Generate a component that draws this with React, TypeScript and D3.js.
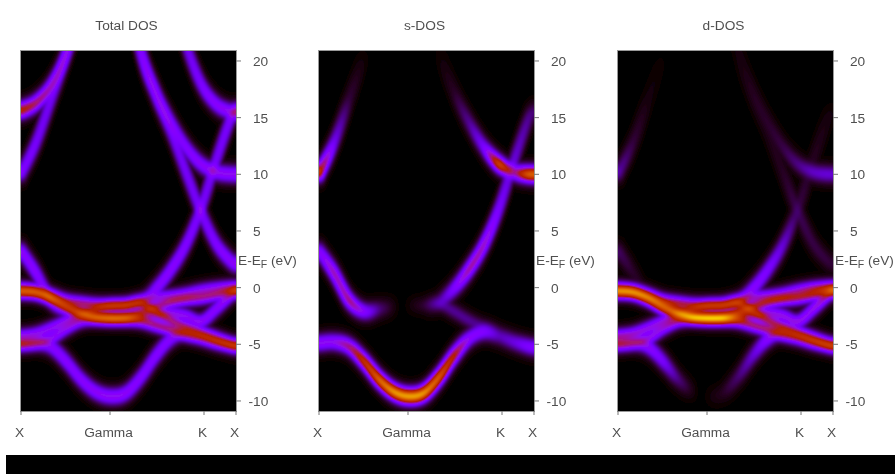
import * as d3 from "d3";
import React, { useMemo } from "react";

// path position of the k-nodes (X - Gamma - K - X)
const kNodes = [0, 15, 30, 45, 60, 75, 90, 105, 120, 135, 150, 165, 180, 195, 210, 215];
const kTicks = [0, 89, 183, 215];
const kTickLabels = ["X", "Gamma", "K", "X"];
const energyTicks = [20, 15, 10, 5, 0, -5, -10];
const panelTitles = ["Total DOS", "s-DOS", "d-DOS"];

// band energies (eV) read at each k-node
const energyA = [-4.9, -4.8, -5.2, -6.5, -8.1, -9.2, -9.6, -9.3, -7.9, -6.0, -4.5, -3.9, -4.3, -4.8, -5.2, -5.3];
const energyB = [3.3, 1.3, -1.1, -2.1, -1.9, -1.7, -1.7, -1.7, -1.3, -0.1, 1.6, 3.8, 7.0, 11.2, 15.0, 15.7];
const energyC = [60, 55, 50, 45, 40, 38, 35, 27, 20.6, 16.9, 13.8, 10.2, 6.7, 3.9, 2.3, 2.0];
const energyH = [60, 55, 50, 45, 40, 38, 35, 27.5, 21, 17.3, 14.6, 12.4, 10.9, 10.2, 10, 10];
const energyE = [10, 12.8, 16.6, 20.5, 25, 32, 40, 60, 60, 60, 60, 60, 60, 60, 60, 60];
const energyF = [15.6, 16.3, 17.8, 20.6, 25, 32, 40, 60, 60, 60, 60, 60, 60, 60, 60, 60];
const energyG = [60, 60, 60, 60, 60, 60, 60, 60, 45, 33, 26.5, 21.5, 18, 16.2, 15.5, 15.5];
const energyD1 = [-0.4, -0.5, -1.0, -1.8, -2.3, -2.6, -2.7, -2.6, -2.2, -1.7, -1.25, -1.0, -0.85, -0.6, -0.3, -0.2];
const energyD2 = [-0.15, -0.3, -0.7, -1.2, -1.4, -1.55, -1.6, -1.55, -1.2, -0.9, -0.8, -0.6, -0.3, -0.1, 0, 0];
const energyD3 = [-0.3, -0.4, -0.9, -1.6, -2.2, -2.6, -2.7, -2.7, -2.6, -2.4, -2.3, -2.5, -3.0, -1.9, -0.6, -0.3];
const energyD4 = [-4.3, -4.1, -3.6, -3.0, -2.4, -1.9, -1.6, -1.55, -1.4, -2.1, -2.9, -3.5, -4.0, -4.5, -5.0, -5.1];
const energyD5 = [-5.0, -4.9, -4.5, -3.6, -2.9, -2.7, -2.7, -2.75, -2.9, -3.3, -3.7, -4.1, -4.4, -4.8, -5.1, -5.2];

// brightness of each band in the three panels
const totalA = [0.3, 0.28, 0.28, 0.3, 0.3, 0.3, 0.3, 0.3, 0.3, 0.3, 0.28, 0.24, 0.12, 0.1, 0.1, 0.1];
const totalB = [0.32, 0.33, 0.28, 0.1, 0.08, 0.05, 0.05, 0.05, 0.12, 0.3, 0.32, 0.32, 0.32, 0.32, 0.32, 0.3];
const totalC = [0, 0, 0, 0, 0, 0, 0, 0.3, 0.3, 0.3, 0.3, 0.3, 0.3, 0.3, 0.3, 0.3];
const totalH = [0, 0, 0, 0, 0, 0, 0, 0.3, 0.3, 0.3, 0.3, 0.3, 0.3, 0.3, 0.3, 0.3];
const totalE = [0.3, 0.3, 0.3, 0.28, 0.24, 0, 0, 0, 0, 0, 0, 0, 0, 0, 0, 0];
const totalF = [0.52, 0.45, 0.42, 0.36, 0.28, 0, 0, 0, 0, 0, 0, 0, 0, 0, 0, 0];
const totalG = [0, 0, 0, 0, 0, 0, 0, 0, 0, 0.3, 0.3, 0.3, 0.3, 0.3, 0.3, 0.32];
const totalD1 = [0.42, 0.42, 0.43, 0.43, 0.43, 0.43, 0.43, 0.43, 0.42, 0.39, 0.39, 0.39, 0.39, 0.39, 0.41, 0.43];
const totalD2 = [0.41, 0.41, 0.41, 0.41, 0.41, 0.41, 0.41, 0.41, 0.37, 0.3, 0.3, 0.3, 0.3, 0.3, 0.33, 0.33];
const totalD3 = [0.41, 0.41, 0.41, 0.41, 0.43, 0.43, 0.43, 0.41, 0.32, 0.3, 0.3, 0.3, 0.3, 0.3, 0.36, 0.38];
const totalD4 = [0.3, 0.3, 0.3, 0.31, 0.33, 0.38, 0.41, 0.41, 0.41, 0.41, 0.41, 0.41, 0.41, 0.41, 0.41, 0.41];
const totalD5 = [0.38, 0.34, 0.3, 0.31, 0.33, 0.38, 0.43, 0.43, 0.41, 0.41, 0.41, 0.41, 0.41, 0.41, 0.41, 0.41];

const sA = [0.3, 0.3, 0.42, 0.62, 0.78, 0.85, 0.85, 0.85, 0.78, 0.58, 0.3, 0.25, 0.12, 0.17, 0.25, 0.25];
const sB = [0.28, 0.45, 0.47, 0.28, 0.08, 0, 0, 0, 0.1, 0.27, 0.45, 0.45, 0.33, 0.24, 0.13, 0.05];
const sE = [0.68, 0.27, 0.05, 0, 0, 0, 0, 0, 0, 0, 0, 0, 0, 0, 0, 0];
const sH = [0, 0, 0, 0, 0, 0, 0, 0, 0, 0.03, 0.12, 0.26, 0.68, 0.35, 0.72, 0.7];
const sD4 = [0, 0, 0, 0, 0, 0, 0, 0.03, 0.1, 0.1, 0.1, 0.08, 0.05, 0.03, 0.03, 0];

const dA = [0.25, 0.25, 0.3, 0.25, 0.09, 0, 0, 0.02, 0.08, 0.18, 0.3, 0.25, 0.05, 0.03, 0.03, 0.03];
const dB = [0.07, 0.03, 0.03, 0.05, 0.1, 0.05, 0, 0.05, 0.25, 0.3, 0.28, 0.2, 0.06, 0.03, 0.01, 0];
const dC = [0, 0, 0, 0, 0, 0, 0, 0, 0, 0.02, 0.02, 0.03, 0.07, 0.05, 0.04, 0.03];
const dH = [0, 0, 0, 0, 0, 0, 0, 0, 0.01, 0.02, 0.03, 0.05, 0.09, 0.14, 0.16, 0.15];
const dE = [0.14, 0.05, 0.01, 0, 0, 0, 0, 0, 0, 0, 0, 0, 0, 0, 0, 0];
const dD1 = [0.5, 0.5, 0.5, 0.51, 0.52, 0.54, 0.54, 0.54, 0.51, 0.47, 0.45, 0.45, 0.45, 0.45, 0.47, 0.49];
const dD2 = [0.48, 0.48, 0.48, 0.48, 0.45, 0.42, 0.42, 0.42, 0.4, 0.34, 0.32, 0.32, 0.34, 0.4, 0.44, 0.45];
const dD3 = [0.48, 0.48, 0.48, 0.5, 0.52, 0.54, 0.54, 0.54, 0.42, 0.34, 0.32, 0.32, 0.32, 0.34, 0.42, 0.45];
const dD4 = [0.36, 0.34, 0.32, 0.32, 0.34, 0.4, 0.42, 0.42, 0.44, 0.44, 0.44, 0.44, 0.44, 0.44, 0.44, 0.44];
const dD5 = [0.38, 0.34, 0.32, 0.32, 0.4, 0.5, 0.54, 0.54, 0.46, 0.42, 0.42, 0.42, 0.44, 0.44, 0.44, 0.44];

const noWeight = kNodes.map(() => 0);

const sigmaBroad = 0.34; // broadening in eV of the s/p-like bands
const sigmaNarrow = 0.3; // and of the d bands

const bands = [
  { energy: energyA, sigma: sigmaBroad, weights: [totalA, sA, dA] },
  { energy: energyB, sigma: sigmaBroad, weights: [totalB, sB, dB] },
  { energy: energyC, sigma: sigmaBroad, weights: [totalC, noWeight, dC] },
  { energy: energyH, sigma: sigmaBroad, weights: [totalH, sH, dH] },
  { energy: energyE, sigma: sigmaBroad, weights: [totalE, sE, dE] },
  { energy: energyF, sigma: sigmaBroad, weights: [totalF, noWeight, noWeight] },
  { energy: energyG, sigma: sigmaBroad, weights: [totalG, noWeight, noWeight] },
  { energy: energyD1, sigma: sigmaNarrow, weights: [totalD1, noWeight, dD1] },
  { energy: energyD2, sigma: sigmaNarrow, weights: [totalD2, noWeight, dD2] },
  { energy: energyD3, sigma: sigmaNarrow, weights: [totalD3, noWeight, dD3] },
  { energy: energyD4, sigma: sigmaNarrow, weights: [totalD4, sD4, dD4] },
  { energy: energyD5, sigma: sigmaNarrow, weights: [totalD5, noWeight, dD5] },
];

const panelLefts = [21, 319, 618];
const panelWidth = 215;
const panelTop = 51;
const panelBottom = 411;
const font = "'Liberation Sans', Arial, sans-serif";
const textColor = "#505050";

const yScale = d3.scaleLinear().domain([-10.86, 20.88]).range([410.7, 51]);

// smooth curve through the k-nodes
function hermite(values: number[], k: number) {
  let i = d3.bisectRight(kNodes, k) - 1;
  i = Math.max(0, Math.min(kNodes.length - 2, i));
  const slope = (j: number) => {
    const a = Math.max(0, j - 1);
    const b = Math.min(kNodes.length - 1, j + 1);
    return (values[b] - values[a]) / (kNodes[b] - kNodes[a]);
  };
  const h = kNodes[i + 1] - kNodes[i];
  const t = (k - kNodes[i]) / h;
  const t2 = t * t;
  const t3 = t2 * t;
  return (
    (2 * t3 - 3 * t2 + 1) * values[i] +
    (t3 - 2 * t2 + t) * h * slope(i) +
    (-2 * t3 + 3 * t2) * values[i + 1] +
    (t3 - t2) * h * slope(i + 1)
  );
}

// gnuplot's default pm3d palette (rgbformulae 7,5,15)
function palette(v: number) {
  const t = Math.min(1, Math.max(0, v));
  return [
    Math.sqrt(t) * 255,
    t * t * t * 255,
    Math.max(0, Math.sin(2 * Math.PI * t)) * 255,
  ];
}

function renderPanel(panel: number) {
  const xScale = d3.scaleLinear().domain([0, 215]).range([0, panelWidth]);
  const height = panelBottom - panelTop;
  const canvas = document.createElement("canvas");
  canvas.width = panelWidth;
  canvas.height = height;
  const ctx = canvas.getContext("2d")!;
  const image = ctx.createImageData(panelWidth, height);
  const weightScales = bands.map((b) =>
    d3.scaleLinear().domain(kNodes).range(b.weights[panel]).clamp(true)
  );
  const density = new Float32Array(panelWidth * height);
  for (let col = 0; col < panelWidth; col++) {
    const k = xScale.invert(col + 0.5);
    const centres = bands.map((b) => hermite(b.energy, k));
    const amps = weightScales.map((w) => w(k) * w(k));
    for (let row = 0; row < height; row++) {
      const e = yScale.invert(panelTop + row + 0.5);
      let sum = 0;
      for (let b = 0; b < bands.length; b++) {
        if (amps[b] === 0) continue;
        const d = (e - centres[b]) / bands[b].sigma;
        sum += amps[b] * Math.exp(-0.5 * d * d);
      }
      density[row * panelWidth + col] = sum;
    }
  }
  d3.blur2({ data: density, width: panelWidth, height }, 2, 0);
  for (let i = 0; i < density.length; i++) {
    // the plot's colour axis is on a square-root scale
    const [r, g, bl] = palette(Math.sqrt(density[i]));
    image.data[i * 4] = r;
    image.data[i * 4 + 1] = g;
    image.data[i * 4 + 2] = bl;
    image.data[i * 4 + 3] = 255;
  }
  ctx.putImageData(image, 0, 0);
  return canvas.toDataURL();
}

const Panel = ({ index }: { index: number }) => {
  const left = panelLefts[index];
  const href = useMemo(() => renderPanel(index), [index]);
  const xScale = d3.scaleLinear().domain([0, 215]).range([left, left + panelWidth]);
  const right = left + panelWidth;
  return (
    <g fontFamily={font} fill={textColor} fontSize={13.7}>
      <image href={href} x={left} y={panelTop} width={panelWidth} height={panelBottom - panelTop} filter="url(#soft)" />
      <rect
        x={left - 0.5}
        y={panelTop - 0.5}
        width={panelWidth + 1}
        height={panelBottom - panelTop + 1}
        fill="none"
        stroke="#999"
      />
      <g filter="url(#soft)">
        <text x={left + panelWidth / 2 - 2} y={29.5} textAnchor="middle">
          {panelTitles[index]}
        </text>
        {energyTicks.map((t) => (
          <g key={t}>
            <line x1={right} x2={right + 5} y1={yScale(t)} y2={yScale(t)} stroke="#777" />
            <text x={right + (t < 0 ? 12.5 : 17)} y={yScale(t) + 5}>
              {t}
            </text>
          </g>
        ))}
        <text x={right + 2} y={264.5}>
          E-E
          <tspan fontSize={10.5} dy={3}>F</tspan>
          <tspan dy={-3}> (eV)</tspan>
        </text>
        {kTicks.map((t, i) => (
          <g key={i}>
            <line x1={xScale(t)} x2={xScale(t)} y1={panelBottom} y2={panelBottom + 4} stroke="#777" />
            <text x={xScale(t) - 1.5} y={436.5} textAnchor="middle">
              {kTickLabels[i]}
            </text>
          </g>
        ))}
      </g>
    </g>
  );
};

export default function App() {
  return (
    <svg
      width={895}
      height={474}
      style={{ position: "absolute", left: 0, top: 0, display: "block", background: "#fff" }}
    >
      <defs>
        <filter id="soft" x="-5%" y="-5%" width="110%" height="110%">
          <feGaussianBlur stdDeviation={0.55} />
        </filter>
      </defs>
      {panelLefts.map((_, i) => (
        <Panel key={i} index={i} />
      ))}
      <rect x={6} y={455} width={889} height={19} fill="#000" />
    </svg>
  );
}
